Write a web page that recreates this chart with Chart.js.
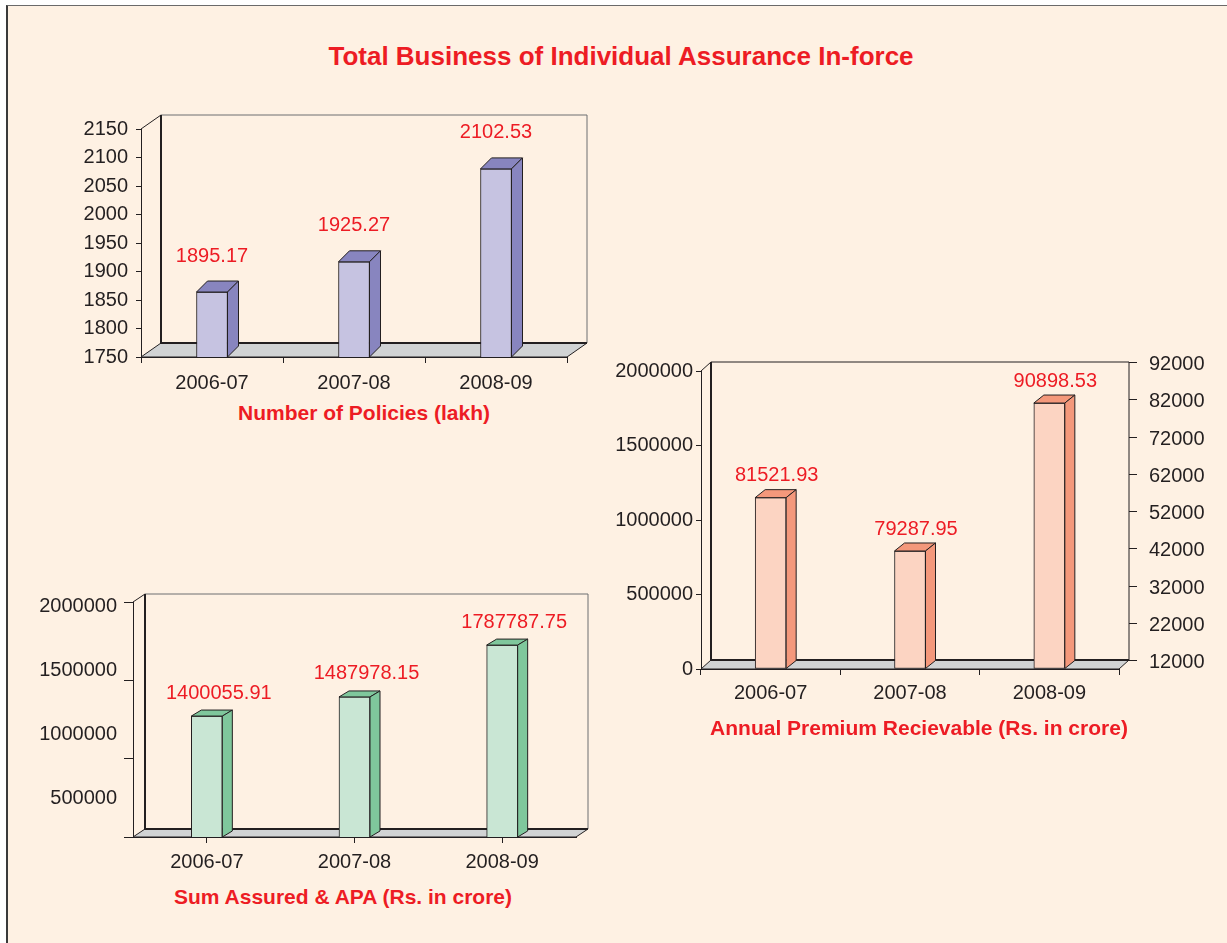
<!DOCTYPE html>
<html>
<head>
<meta charset="utf-8">
<title>Total Business of Individual Assurance In-force</title>
<script src="https://cdn.jsdelivr.net/npm/chart.js@4.4.1/dist/chart.umd.min.js"></script>
<style>
  body { margin: 0; background: #fff; width: 1227px; height: 943px; overflow: hidden; position: relative; }
  #frame { position: absolute; left: 6px; top: 5px; right: 0; bottom: 0; background: #fef1e3;
           border-left: 2px solid #3a3a3a; border-top: 1px solid #6a6a6a; }
  canvas { position: absolute; }
  .t { position: absolute; color: #ed1c24; font-family: "Liberation Sans", Arial, sans-serif;
       font-weight: bold; text-align: center; white-space: nowrap; }
  .main { left: 221px; top: 40px; width: 800px; font-size: 26px; line-height: 32px; }
  .sub { font-size: 21px; line-height: 24px; }
</style>
</head>
<body>
<div id="frame"></div>
<div class="t main">Total Business of Individual Assurance In-force</div>

<canvas id="policies" width="560" height="300" style="left:60px;top:100px"></canvas>
<div class="t sub" style="left:164px;top:401px;width:400px">Number of Policies (lakh)</div>

<canvas id="premium" width="627" height="380" style="left:600px;top:340px"></canvas>
<div class="t sub" style="left:669px;top:716px;width:500px">Annual Premium Recievable (Rs. in crore)</div>

<canvas id="sumAssured" width="600" height="300" style="left:20px;top:570px"></canvas>
<div class="t sub" style="left:143px;top:885px;width:400px">Sum Assured &amp; APA (Rs. in crore)</div>

<script>
const years = ['2006-07', '2007-08', '2008-09'];

// Number of Policies (lakh): bar heights as drawn, and the printed values
const policyBars = [1864, 1917, 2080];
const policyLabels = ['1895.17', '1925.27', '2102.53'];
const policyTicks = [1750, 1800, 1850, 1900, 1950, 2000, 2050, 2100, 2150];

// Annual Premium Recievable (Rs. in crore)
const premiumBars = [1150000, 792000, 1785000];
const premiumLabels = ['81521.93', '79287.95', '90898.53'];
const premiumTicks = [0, 500000, 1000000, 1500000, 2000000];
const premiumRightTicks = [12000, 22000, 32000, 42000, 52000, 62000, 72000, 82000, 92000];

// Sum Assured & APA (Rs. in crore)
const sumBars = [1272000, 1394000, 1725000];
const sumLabels = ['1400055.91', '1487978.15', '1787787.75'];
const sumTicks = [500000, 1000000, 1500000, 2000000];

const DARK = '#231f20';
const RED = '#ed1c24';
const FONT = '"Liberation Sans", Arial, sans-serif';

Chart.defaults.font.family = FONT;
Chart.defaults.font.size = 20;
Chart.defaults.color = DARK;

function poly(ctx, pts) {
    ctx.beginPath();
    ctx.moveTo(pts[0][0], pts[0][1]);
    pts.slice(1).forEach(p => ctx.lineTo(p[0], p[1]));
    ctx.closePath();
    ctx.fill();
    ctx.stroke();
}

// draws the walls, floor, bar tops/sides and value labels for the fake 3D look
const box3d = {
    id: 'box3d',
    beforeDatasetsDraw(chart, args, o) {
        const { ctx, chartArea: a } = chart;
        const [dx, dy] = o.wall;
        ctx.save();
        ctx.lineWidth = 1;
        // floor
        ctx.fillStyle = '#d1d3d4';
        ctx.strokeStyle = DARK;
        poly(ctx, [[a.left, a.bottom], [a.right, a.bottom], [a.right + dx, a.bottom - dy], [a.left + dx, a.bottom - dy]]);
        // back wall top and right edge
        ctx.strokeStyle = o.rightAxis ? DARK : '#6d6e71';
        ctx.beginPath();
        ctx.moveTo(a.left + dx, a.top - dy);
        ctx.lineTo(a.right + dx, a.top - dy);
        ctx.lineTo(a.right + dx, a.bottom - dy);
        ctx.stroke();
        // corner diagonal
        ctx.strokeStyle = DARK;
        ctx.beginPath();
        ctx.moveTo(a.left, a.top);
        ctx.lineTo(a.left + dx, a.top - dy);
        ctx.stroke();
        // heavy back-left edge and back floor edge
        ctx.lineWidth = 2;
        ctx.beginPath();
        ctx.moveTo(a.left + dx, a.top - dy);
        ctx.lineTo(a.left + dx, a.bottom - dy);
        ctx.lineTo(a.right + dx, a.bottom - dy);
        ctx.stroke();
        ctx.restore();
    },
    afterDatasetsDraw(chart, args, o) {
        const { ctx, chartArea: a } = chart;
        const [bx, by] = o.bar;
        ctx.save();
        ctx.lineWidth = 1;
        ctx.lineJoin = 'round';
        chart.getDatasetMeta(0).data.forEach((bar, i) => {
            const { x, y, base, width } = bar.getProps(['x', 'y', 'base', 'width'], true);
            const l = x - width / 2, r = x + width / 2;
            const b = Math.min(base, a.bottom); // axis does not start at zero
            ctx.fillStyle = o.side;
            ctx.strokeStyle = DARK;
            poly(ctx, [[l, y], [r, y], [r + bx, y - by], [l + bx, y - by]]);
            poly(ctx, [[r, y], [r + bx, y - by], [r + bx, b - by], [r, b]]);
            ctx.fillStyle = RED;
            ctx.font = '20px ' + FONT;
            ctx.textAlign = 'center';
            ctx.textBaseline = 'middle';
            ctx.fillText(o.labels[i], x + o.labelShift[0], y - o.labelShift[1]);
        });

        ctx.fillStyle = DARK;
        ctx.strokeStyle = DARK;
        ctx.font = '20px ' + FONT;
        ctx.textBaseline = 'middle';

        // secondary axis sitting on the back wall
        if (o.rightAxis) {
            const s = chart.scales[o.rightAxis.id];
            const [dx, dy] = o.wall;
            const xx = a.right + dx;
            ctx.textAlign = 'left';
            o.rightAxis.ticks.forEach(v => {
                const yy = Math.round(s.getPixelForValue(v) - dy) + 0.5;
                ctx.beginPath();
                ctx.moveTo(xx, yy);
                ctx.lineTo(xx + 8, yy);
                ctx.stroke();
                ctx.fillText(String(v), xx + 20, yy + 2);
            });
        }

        // tick labels placed from their own (squeezed) scale
        if (o.labelAxis) {
            const s = chart.scales[o.labelAxis.id];
            ctx.textAlign = 'right';
            o.labelAxis.ticks.forEach(v => {
                ctx.fillText(String(v), a.left - 16, s.getPixelForValue(v));
            });
        }
        ctx.restore();
    }
};

function baseOptions(pad) {
    return {
        responsive: false,
        animation: false,
        events: [],
        layout: { padding: pad },
        plugins: { legend: { display: false }, tooltip: { enabled: false } }
    };
}

function xAxis(height, padding, offsetTicks) {
    return {
        afterFit: s => { s.height = height; },
        grid: { drawOnChartArea: false, tickLength: 6, color: DARK, offset: offsetTicks },
        border: { color: DARK },
        ticks: { padding: padding, color: DARK }
    };
}

function yAxis(tickValues, width, tickLength, padding, showLabels) {
    return {
        min: tickValues[0],
        max: tickValues[tickValues.length - 1],
        afterBuildTicks: s => { s.ticks = tickValues.map(value => ({ value })); },
        afterFit: s => { s.width = width; },
        grid: { drawOnChartArea: false, tickLength: tickLength, color: DARK },
        border: { color: DARK },
        ticks: { padding: padding, color: DARK, callback: v => showLabels ? String(v) : '' }
    };
}

// --- Number of Policies ---
const policyOpts = baseOptions({ left: 0, top: 29, right: 53, bottom: 0 });
policyOpts.scales = {
    x: xAxis(43, 8, true),
    y: yAxis(policyTicks, 81, 5, 8, true)
};
policyOpts.plugins.box3d = { wall: [20, 14], bar: [11, 11], side: '#8885bf', labels: policyLabels, labelShift: [0, 36] };
new Chart(document.getElementById('policies'), {
    type: 'bar',
    data: {
        labels: years,
        datasets: [{ data: policyBars, backgroundColor: '#c6c3e1', borderColor: DARK, borderWidth: 1,
                     borderSkipped: false, barThickness: 31 }]
    },
    options: policyOpts,
    plugins: [box3d]
});

// --- Annual Premium ---
const premiumOpts = baseOptions({ left: 0, top: 31, right: 108, bottom: 0 });
premiumOpts.scales = {
    x: xAxis(51, 6, true),
    y: yAxis(premiumTicks, 101, 5, 3, true),
    y2: { display: false, position: 'right',
          min: premiumRightTicks[0], max: premiumRightTicks[premiumRightTicks.length - 1] }
};
premiumOpts.plugins.box3d = { wall: [10, 9], bar: [10, 8], side: '#f4987b', labels: premiumLabels,
                              labelShift: [6, 22], rightAxis: { id: 'y2', ticks: premiumRightTicks } };
new Chart(document.getElementById('premium'), {
    type: 'bar',
    data: {
        labels: years,
        datasets: [{ data: premiumBars, backgroundColor: '#fcd4c2', borderColor: DARK, borderWidth: 1,
                     borderSkipped: false, barThickness: 31 }]
    },
    options: premiumOpts,
    plugins: [box3d]
});

// --- Sum Assured & APA ---
// the printed tick labels in the original do not line up with the tick marks,
// so they get their own hidden scale
const sumOpts = baseOptions({ left: 0, top: 32, right: 44, bottom: 0 });
sumOpts.scales = {
    x: xAxis(33, 7, false),
    y: yAxis(sumTicks, 113, 9, 4, false),
    yLab: { display: false, min: 195312.5, max: 2031250 }
};
sumOpts.plugins.box3d = { wall: [12, 8], bar: [10, 6], side: '#7fc79c', labels: sumLabels,
                          labelShift: [12, 23], labelAxis: { id: 'yLab', ticks: sumTicks } };
new Chart(document.getElementById('sumAssured'), {
    type: 'bar',
    data: {
        labels: years,
        datasets: [{ data: sumBars, backgroundColor: '#c9e6d4', borderColor: DARK, borderWidth: 1,
                     borderSkipped: false, barThickness: 31 }]
    },
    options: sumOpts,
    plugins: [box3d]
});
</script>
</body>
</html>
